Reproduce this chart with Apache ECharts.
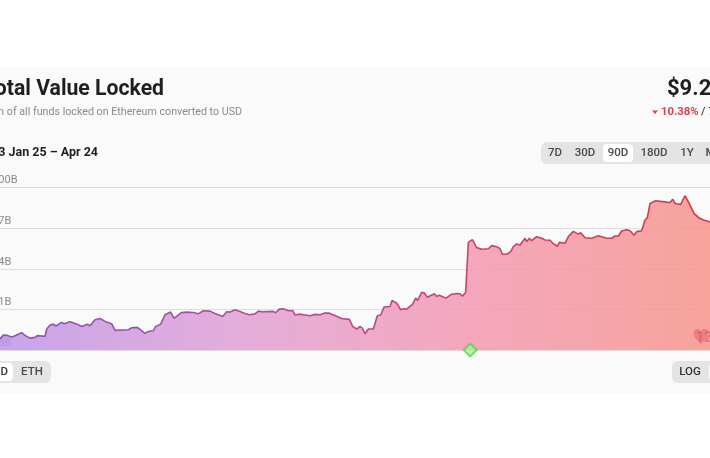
<!DOCTYPE html>
<html><head><meta charset="utf-8">
<style>html,body{margin:0;padding:0;background:#fff}#c{width:710px;height:458px}</style>
<script src="https://cdn.jsdelivr.net/npm/echarts@6/dist/echarts.min.js"></script>
</head><body><div id="c"></div>
<script>
const dayIndex = [0,0.63,1.04,1.54,2.08,2.5,3.33,3.75,4.38,5,5.29,6.25,6.46,6.88,7.29,7.63,8.33,8.63,9.38,10.29,10.83,11.54,11.88,12.5,13.13,13.75,14.58,15,16.67,17.08,17.79,18.75,19.17,19.79,20.08,20.71,21.25,21.96,22.38,23.33,23.96,24.79,25.42,26.04,26.88,27.5,28.46,28.96,29.38,30,
30.63,31.25,31.79,32.5,32.92,33.33,34.79,35.08,35.54,36.04,36.67,37.21,37.5,38.04,39.38,40,40.63,41.13,41.79,42.5,43.33,44.29,44.71,45.21,45.63,45.92,46.25,46.67,47.29,47.79,48.21,48.63,49.38,49.63,50.21,50.71,51.04,51.46,52.21,52.58,52.83,53.33,53.63,54.04,54.92,55.21,55.54,56.38,57.08,57.71,58.13,58.42,58.83,59.17,59.67,59.92,
60.21,60.83,61.67,62.08,62.71,63.13,63.42,63.96,64.46,64.79,65.21,65.63,66.25,66.46,66.79,67.08,67.71,68.33,68.75,69.38,69.79,70.29,70.54,71.25,71.67,72.29,72.92,73.21,73.75,74.58,75.42,76.46,77.08,77.5,77.92,78.33,78.96,79.38,79.88,80.21,80.83,81.25,81.54,81.88,82.58,83.96,84.38,84.71,85,85.71,86.25,86.67,86.88,87.38,87.92,88.54,89.38,90];
const tvlBillions = [88.7,88.83,89.10,89.08,88.96,89.06,89.28,89.08,88.88,88.93,89.06,89.01,89.55,89.84,89.91,89.77,90.04,89.94,90.09,89.91,89.74,89.91,89.79,90.23,90.33,90.11,89.94,89.45,89.50,89.64,89.67,89.23,89.37,89.42,89.74,89.91,90.60,90.80,90.33,90.77,90.80,90.77,90.67,90.90,90.87,90.70,90.48,90.82,90.80,90.97,
90.85,90.70,90.60,90.67,90.87,90.82,90.85,90.75,91.02,91.04,90.90,90.92,90.58,90.65,90.53,90.63,90.60,90.72,90.72,90.55,90.33,90.26,89.74,89.55,89.74,89.62,89.20,89.55,89.55,90.53,90.58,91.17,91.21,91.66,91.46,90.97,91.04,91.02,91.39,91.83,91.66,92.25,92.22,91.90,92.15,91.95,92.05,91.83,92.12,92.17,92.15,91.98,92.25,95.95,96.15,96.12,
95.56,95.44,95.48,95.71,95.63,95.48,95.07,95.07,95.26,95.63,95.83,95.75,96.25,96.00,96.25,96.07,96.37,96.25,96.12,96.10,95.85,95.66,95.95,95.88,96.37,96.76,96.56,96.66,96.29,96.25,96.44,96.25,96.25,96.42,96.42,96.79,96.88,96.81,96.47,96.74,96.81,97.60,97.77,98.82,99.02,98.92,98.90,99.14,98.82,98.75,99.39,98.94,99.07,98.09,97.79,97.60,97.47,97.4];
const yTickLabels = {88:'$88B',91:'$91B',94:'$94B',97:'$97B',100:'$100B'};
const eventDays = [59.4];
const eventLabels = [['12', 88.25, 89.0]];
const rangeButtons = ['7D','30D','90D','180D','1Y','MAX'];
const F = 'Roboto, sans-serif';

const chart = echarts.init(document.getElementById('c'), null, {renderer:'canvas'});
const txt = (x,y,text,size,weight,fill,align) => ({type:'text',z:20,x,y,style:{text,fontFamily:F,fontSize:size,fontWeight:weight,fill,align:align||'left',verticalAlign:'middle'}});
const rect = (x,y,w,h,r,fill,z) => ({type:'rect',z:z||10,shape:{x,y,width:w,height:h,r},style:{fill}});
const btnX = [555,585,618,654,687,718];
const graphic = [
  {type:'rect',z:-10,silent:true,shape:{x:0,y:66,width:710,height:328},style:{fill:'#fafafa'}},
  txt(164,89.5,'Total Value Locked',21.2,700,'#1f1f1f','right'),
  txt(242,112.5,'Sum of all funds locked on Ethereum converted to USD',10.7,400,'#8a8a8a','right'),
  txt(98,152.5,'23 Jan 25 – Apr 24',12.5,700,'#1f1f1f','right'),
  txt(667,89.5,'$9.2',22,700,'#1f1f1f'),
  txt(661,112.5,'10.38%',11.3,700,'#dc3f4e'),
  txt(701,112.5,'/ 7',11.3,500,'#444'),
  {type:'polygon',z:20,shape:{points:[[652,110.5],[658,110.5],[655,114]]},style:{fill:'#dc3f4e'}},
  rect(541,142,180,22,6,'#e4e4e4'),
  rect(603,144,30,18,4,'#ffffff',11),
  ...rangeButtons.map((b,i)=>txt(btnX[i],153.5,b,11.5,500,'#4a4a4a','center')),
  rect(-30,361,81,22,6,'#e4e4e4'),
  rect(-28,363,41,18,4,'#ffffff',11),
  txt(-3,372.5,'USD',11.5,500,'#333','center'),
  txt(32,372.5,'ETH',11.5,500,'#4a4a4a','center'),
  rect(672,361,60,22,6,'#e4e4e4'),
  rect(709,363,24,18,4,'#ffffff',11),
  txt(690,372.5,'LOG',11.5,500,'#333','center')
];
const hGrad = (stops) => new echarts.graphic.LinearGradient(0,0,1,0,stops.map(([offset,color])=>({offset,color})));
chart.setOption({
  animation:false,
  backgroundColor:'#ffffff',
  graphic,
  grid:{left:-5,right:-5,top:187.5,height:162.5,outerBoundsMode:'none',containLabel:false},
  xAxis:{type:'value',min:0,max:90,show:false},
  yAxis:{type:'value',min:88,max:100,interval:3,
    axisLine:{show:false},axisTick:{show:false},
    splitLine:{lineStyle:{color:'#dedede',width:1}},
    axisLabel:{inside:true,margin:-9,verticalAlign:'bottom',lineHeight:14,color:'#8c8c8c',fontFamily:F,fontSize:11,
      formatter:v=>yTickLabels[v]||''}},
  series:[
    {type:'line',data:dayIndex.map((d,i)=>[d,tvlBillions[i]]),showSymbol:false,smooth:false,z:3,
     lineStyle:{width:1.6,color:hGrad([[0,'#8a55b8'],[0.35,'#b34c9c'],[0.65,'#cf4070'],[1,'#d8383f'] ])},
     areaStyle:{origin:'start',opacity:1,color:hGrad([[0,'rgba(188,148,232,0.84)'],[0.33,'rgba(222,158,212,0.84)'],[0.65,'rgba(243,152,178,0.84)'],[1,'rgba(247,146,136,0.84)']])}},
    {type:'scatter',data:eventDays.map(d=>[d,88]),symbol:'diamond',symbolSize:13,clip:false,z:6,
     itemStyle:{color:'#aef29a',borderColor:'#4fd64f',borderWidth:1.8}},
    {type:'scatter',data:eventLabels.map(e=>[e[1],e[2]]),symbol:'path://M12 21C5 15 1 11 1 7a5 5 0 0 1 11-2 5 5 0 0 1 11 2c0 4-4 8-11 14z',symbolSize:15,z:6,
     itemStyle:{color:'rgba(236,100,112,0.75)'},
     label:{show:true,position:'inside',formatter:'12',offset:[3,2],fontFamily:F,fontSize:14,fontWeight:600,color:'rgba(190,90,100,0.7)'}}
  ]
});
</script></body></html>
